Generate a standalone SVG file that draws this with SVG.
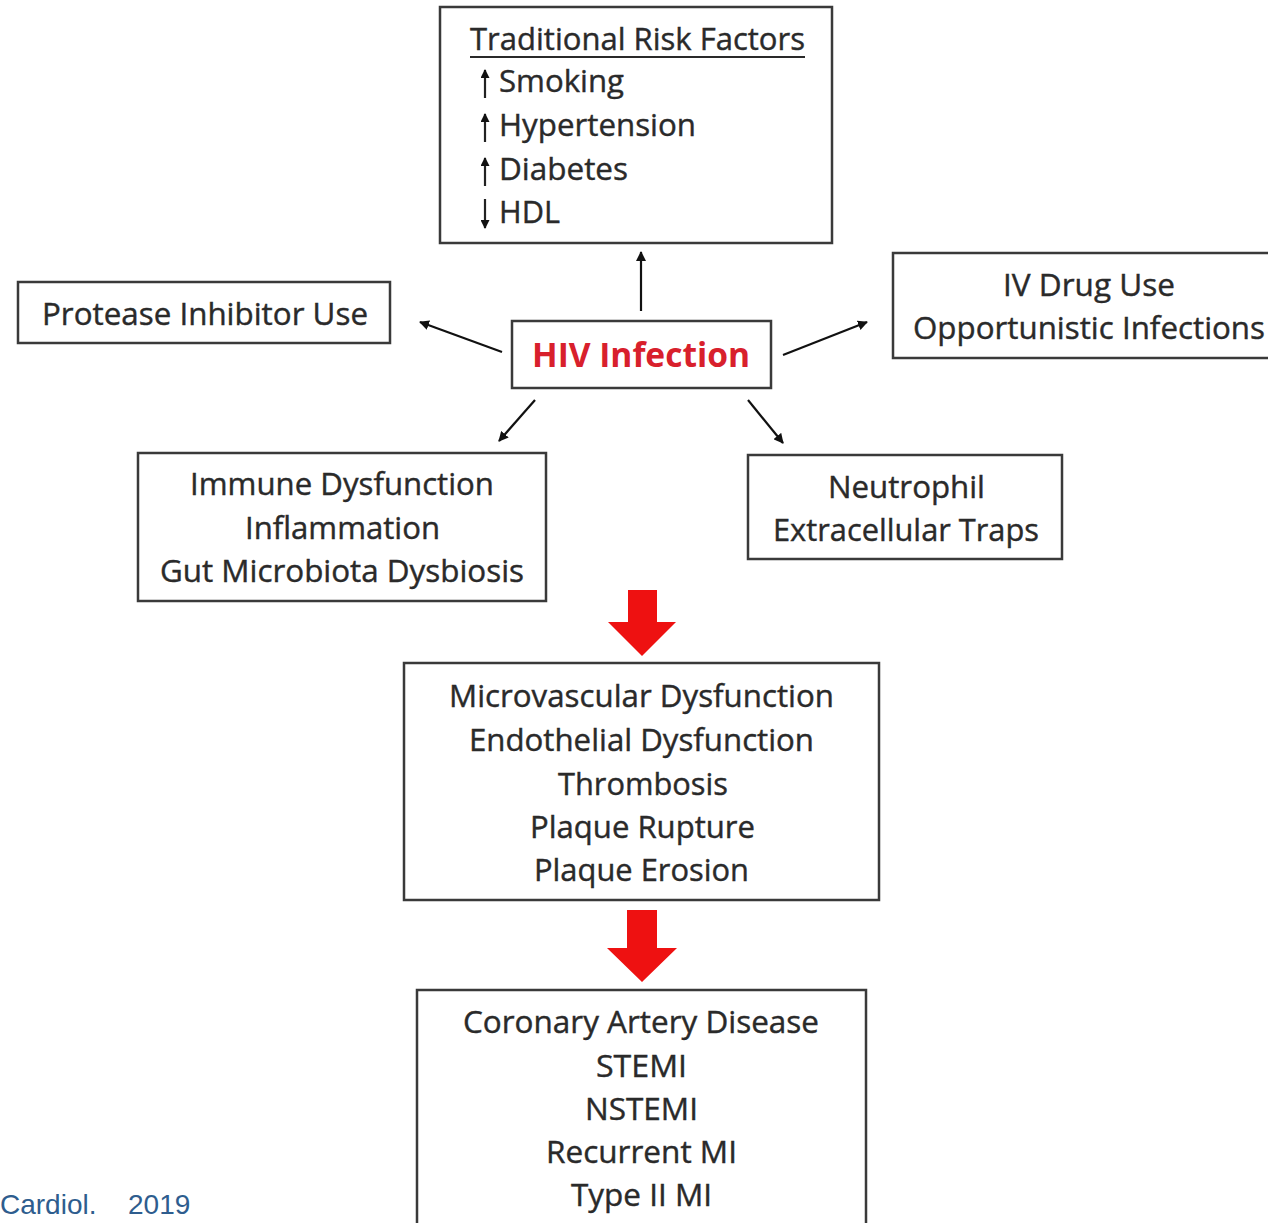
<svg xmlns="http://www.w3.org/2000/svg" width="1268" height="1223" viewBox="0 0 1268 1223">
<defs>
<style>
.box{fill:#fff;stroke:#3a3a3a;stroke-width:2.5}
.t{font-family:"Open Sans","Liberation Sans",sans-serif;font-size:31px;fill:#2a2a2a;stroke:#2a2a2a;stroke-width:0.4}
.hiv{font-family:"Open Sans","Liberation Sans",sans-serif;font-size:34px;font-weight:bold;fill:#d8202c}
.conn{stroke:#111;stroke-width:2.2;fill:none}
.small{stroke:#222;stroke-width:2.2;fill:none}
.red{fill:#ee1111}
</style>
<marker id="ah" viewBox="0 0 10 10" refX="9" refY="5" markerWidth="10" markerHeight="9" markerUnits="userSpaceOnUse" orient="auto"><path d="M0,0 L10,5 L0,10 z" fill="#111"/></marker>
<marker id="ah2" viewBox="0 0 10 10" refX="9" refY="5" markerWidth="10" markerHeight="10" markerUnits="userSpaceOnUse" orient="auto"><path d="M0,0 L10,5 L0,10 z" fill="#111"/></marker>
</defs>
<rect width="1268" height="1223" fill="#fff"/>
<g id="connectors">
<line class="conn" x1="641" y1="311" x2="641" y2="252" marker-end="url(#ah2)"/>
<line class="conn" x1="502" y1="352" x2="420" y2="322" marker-end="url(#ah2)"/>
<line class="conn" x1="783" y1="355" x2="867" y2="322" marker-end="url(#ah2)"/>
<line class="conn" x1="535" y1="400" x2="499" y2="441" marker-end="url(#ah2)"/>
<line class="conn" x1="748" y1="400" x2="783" y2="443" marker-end="url(#ah2)"/>
<polygon class="red" points="628,590 657,590 657,622 676,622 642,656 608,622 628,622"/>
<polygon class="red" points="627,910 657,910 657,948 677,948 642,982 607,948 627,948"/>
</g>
<g id="traditional">
<rect class="box" x="440" y="7" width="392" height="236"/>
<text class="t" x="470" y="50" textLength="335" lengthAdjust="spacingAndGlyphs">Traditional Risk Factors</text>
<line x1="470" y1="57" x2="805" y2="57" stroke="#2a2a2a" stroke-width="2"/>
<line class="small" x1="485" y1="98" x2="485" y2="70" marker-end="url(#ah)"/>
<text class="t" x="499" y="92" textLength="125" lengthAdjust="spacingAndGlyphs">Smoking</text>
<line class="small" x1="485" y1="142" x2="485" y2="114" marker-end="url(#ah)"/>
<text class="t" x="499" y="136" textLength="197" lengthAdjust="spacingAndGlyphs">Hypertension</text>
<line class="small" x1="485" y1="186" x2="485" y2="158" marker-end="url(#ah)"/>
<text class="t" x="499" y="180" textLength="129" lengthAdjust="spacingAndGlyphs">Diabetes</text>
<line class="small" x1="485" y1="199" x2="485" y2="228" marker-end="url(#ah)"/>
<text class="t" x="499" y="223" textLength="61" lengthAdjust="spacingAndGlyphs">HDL</text>
</g>
<g id="protease">
<rect class="box" x="18" y="282" width="372" height="61"/>
<text class="t" x="42" y="325" textLength="326" lengthAdjust="spacingAndGlyphs">Protease Inhibitor Use</text>
</g>
<g id="hiv">
<rect class="box" x="512" y="321" width="259" height="67"/>
<text class="hiv" x="532" y="367" textLength="218" lengthAdjust="spacingAndGlyphs">HIV Infection</text>
</g>
<g id="iv">
<rect class="box" x="893" y="253" width="380" height="105"/>
<text class="t" x="1003" y="296" textLength="172" lengthAdjust="spacingAndGlyphs">IV Drug Use</text>
<text class="t" x="913" y="339" textLength="352" lengthAdjust="spacingAndGlyphs">Opportunistic Infections</text>
</g>
<g id="immune">
<rect class="box" x="138" y="453" width="408" height="148"/>
<text class="t" x="190" y="495" textLength="304" lengthAdjust="spacingAndGlyphs">Immune Dysfunction</text>
<text class="t" x="245" y="539" textLength="195" lengthAdjust="spacingAndGlyphs">Inflammation</text>
<text class="t" x="160" y="582" textLength="364" lengthAdjust="spacingAndGlyphs">Gut Microbiota Dysbiosis</text>
</g>
<g id="neutrophil">
<rect class="box" x="748" y="455" width="314" height="104"/>
<text class="t" x="828" y="498" textLength="157" lengthAdjust="spacingAndGlyphs">Neutrophil</text>
<text class="t" x="773" y="541" textLength="266" lengthAdjust="spacingAndGlyphs">Extracellular Traps</text>
</g>
<g id="mechanisms">
<rect class="box" x="404" y="663" width="475" height="237"/>
<text class="t" x="449" y="707" textLength="385" lengthAdjust="spacingAndGlyphs">Microvascular Dysfunction</text>
<text class="t" x="469" y="751" textLength="345" lengthAdjust="spacingAndGlyphs">Endothelial Dysfunction</text>
<text class="t" x="558" y="795" textLength="170" lengthAdjust="spacingAndGlyphs">Thrombosis</text>
<text class="t" x="530" y="838" textLength="225" lengthAdjust="spacingAndGlyphs">Plaque Rupture</text>
<text class="t" x="534" y="881" textLength="215" lengthAdjust="spacingAndGlyphs">Plaque Erosion</text>
</g>
<g id="outcomes">
<rect class="box" x="417" y="990" width="449" height="240"/>
<text class="t" x="463" y="1033" textLength="356" lengthAdjust="spacingAndGlyphs">Coronary Artery Disease</text>
<text class="t" x="596" y="1077" textLength="91" lengthAdjust="spacingAndGlyphs">STEMI</text>
<text class="t" x="585" y="1120" textLength="113" lengthAdjust="spacingAndGlyphs">NSTEMI</text>
<text class="t" x="546" y="1163" textLength="191" lengthAdjust="spacingAndGlyphs">Recurrent MI</text>
<text class="t" x="571" y="1206" textLength="141" lengthAdjust="spacingAndGlyphs">Type II MI</text>
</g>
<text y="1214" font-family="'Liberation Sans',Arial,sans-serif" font-size="28" fill="#2e5d8e"><tspan x="0">Cardiol.</tspan><tspan x="128">2019</tspan></text>
</svg>
